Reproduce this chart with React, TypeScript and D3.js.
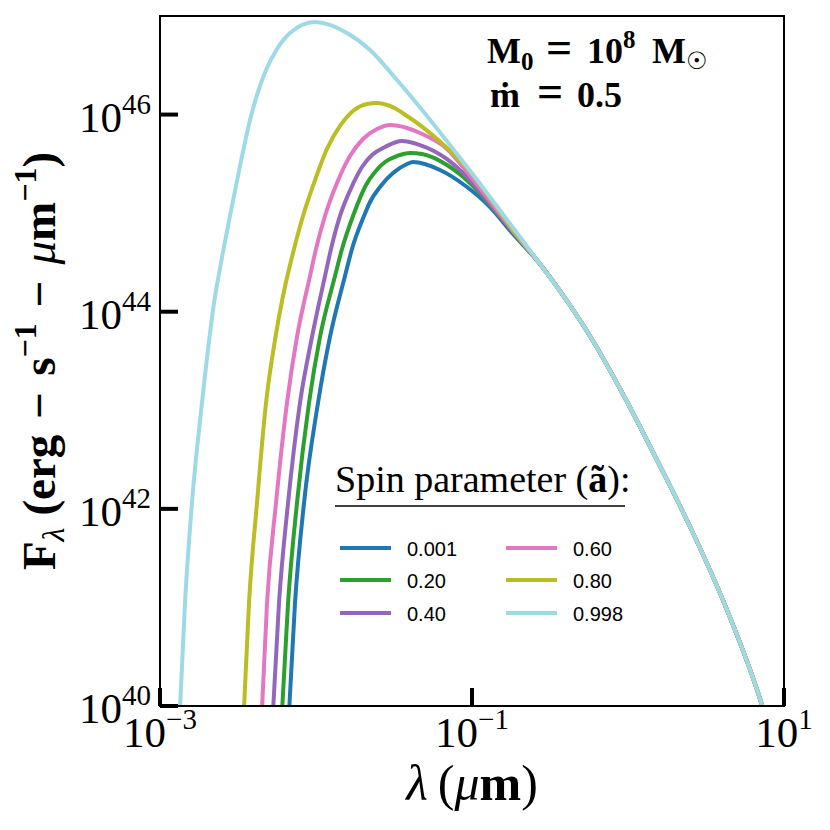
import React from 'react'
import * as d3 from 'd3'

// wavelength in micron, flux F_lambda in erg/s/micron
const spinLabels = ['0.001', '0.20', '0.40', '0.60', '0.80', '0.998']
const spinColors = ['#1f77b4', '#2ca02c', '#9467bd', '#e377c2', '#bcbd22', '#9edae5']

// long-wavelength tail, shared by every spin value
const tail: [number, number][] = [
    [0.2728, 3.05e44], [0.4064, 1.285e44], [0.5965, 5.05e43], [0.9568, 1.334e43],
    [1.604, 2.72e42], [2.611, 5.69e41], [4.311, 9.42e40], [7.228, 1.02e40], [7.894, 6.41e39],
]

const spin0001: [number, number][] = [
    [6.62e-3, 5.71e39], [7.333e-3, 1.109e41], [8.377e-3, 1.146e42], [1.03e-2, 1.186e43],
    [1.229e-2, 5.55e43], [1.534e-2, 2.3e44], [1.701e-2, 4.33e44], [2.031e-2, 9.36e44],
    [2.22e-2, 1.297e45], [2.572e-2, 1.841e45], [3.115e-2, 2.55e45], [3.832e-2, 3.15e45],
    [4.184e-2, 3.3e45], [6.236e-2, 2.74e45], [9.288e-2, 1.841e45], [0.1304, 1.154e45],
    [0.1832, 6.14e44],
]

const spin020: [number, number][] = [
    [5.966e-3, 5.71e39], [6.62e-3, 1.109e41], [7.553e-3, 1.146e42], [9.017e-3, 1.186e43],
    [1.061e-2, 5.55e43], [1.324e-2, 2.3e44], [1.468e-2, 4.33e44], [1.727e-2, 9.36e44],
    [2.092e-2, 1.93e45], [2.388e-2, 2.62e45], [2.769e-2, 3.3e45], [3.305e-2, 3.8e45],
    [4.005e-2, 4.08e45], [4.781e-2, 3.98e45], [6.912e-2, 3.08e45], [0.1015, 1.885e45],
    [0.1304, 1.209e45], [0.1832, 6.45e44],
]

const spin040: [number, number][] = [
    [5.223e-3, 5.71e39], [5.791e-3, 1.109e41], [6.62e-3, 1.146e42], [7.894e-3, 1.186e43],
    [9.428e-3, 5.55e43], [1.142e-2, 2.3e44], [1.248e-2, 4.33e44], [1.425e-2, 9.36e44],
    [1.727e-2, 1.977e45], [1.972e-2, 2.94e45], [2.286e-2, 3.89e45], [2.769e-2, 4.69e45],
    [3.557e-2, 5.4e45], [4.642e-2, 4.91e45], [6.912e-2, 3.54e45], [9.288e-2, 2.33e45],
    [0.1304, 1.238e45], [0.1832, 6.45e44],
]

const spin060: [number, number][] = [
    [4.44e-3, 5.71e39], [4.853e-3, 1.109e41], [5.542e-3, 1.146e42], [6.516e-3, 1.186e43],
    [7.553e-3, 5.55e43], [9.153e-3, 2.3e44], [1.0e-2, 4.33e44], [1.142e-2, 9.36e44],
    [1.363e-2, 2.02e45], [1.651e-2, 3.8e45], [2.001e-2, 5.65e45], [2.46e-2, 7.13e45],
    [2.981e-2, 7.83e45], [3.832e-2, 7.31e45], [4.642e-2, 6.5e45], [6.912e-2, 4.48e45],
    [9.288e-2, 2.62e45], [0.1304, 1.328e45], [0.1832, 6.59e44],
]

const spin080: [number, number][] = [
    [3.403e-3, 5.71e39], [3.719e-3, 1.109e41], [4.184e-3, 1.146e42], [4.781e-3, 1.186e43],
    [5.5e-3, 5.55e43], [6.144e-3, 1.443e44], [7.228e-3, 4.33e44], [8.254e-3, 9.36e44],
    [9.71e-3, 2.02e45], [1.176e-2, 4.48e45], [1.425e-2, 7.66e45], [1.727e-2, 1.087e46],
    [2.123e-2, 1.281e46], [2.46e-2, 1.312e46], [2.981e-2, 1.222e46], [3.832e-2, 9.68e45],
    [4.642e-2, 7.83e45], [6.912e-2, 4.58e45], [0.1015, 2.44e45], [0.1304, 1.425e45],
    [0.1832, 6.75e44],
]

const spin0998: [number, number][] = [
    [1.324e-3, 5.71e39], [1.446e-3, 1.109e41], [1.603e-3, 1.146e42], [1.858e-3, 1.186e43],
    [2.077e-3, 5.55e43], [2.22e-3, 1.225e44], [2.46e-3, 3.12e44], [2.81e-3, 9.36e44],
    [3.256e-3, 3.01e45], [3.832e-3, 9.68e45], [4.44e-3, 2.09e46], [5.623e-3, 4.62e46],
    [6.811e-3, 6.73e46], [9.854e-3, 8.69e46], [1.58e-2, 6.73e46], [2.22e-2, 4.52e46],
    [3.305e-2, 2.24e46], [4.507e-2, 1.251e46], [8.015e-2, 3.98e45], [0.1304, 1.46e45],
    [0.2123, 5.22e44],
]

const spinSeries = [spin0001, spin020, spin040, spin060, spin080, spin0998]

const xTicks = [1e-3, 1e-1, 1e1]
const xTickExp = ['\u22123', '\u22121', '1']
const yTicks = [1e40, 1e42, 1e44, 1e46]
const yTickExp = ['40', '42', '44', '46']

const W = 830
const H = 830
const margin = { top: 16, right: 46, bottom: 124, left: 160 }
const serif = "'Liberation Serif', 'DejaVu Serif', serif"
const sans = "'Liberation Sans', Arial, sans-serif"

export default function App() {
    const x = d3.scaleLog().domain([1e-3, 1e1]).range([margin.left, W - margin.right])
    const y = d3.scaleLog().domain([1e40, 1e47]).range([H - margin.bottom, margin.top])

    const line = d3
        .line<[number, number]>()
        .x((d) => x(d[0]))
        .y((d) => y(d[1]))
        .curve(d3.curveMonotoneX)

    const x0 = margin.left
    const x1 = W - margin.right
    const y0 = H - margin.bottom
    const y1 = margin.top
    const tickLen = 18

    // legend placement
    const legX = 335
    const legRows = [548, 580, 613]
    const legCols = [340, 506]

    return (
        <svg width={W} height={H} style={{ position: 'absolute', left: 0, top: 0, background: '#fff' }}>
            <defs>
                <clipPath id="plotArea">
                    <rect x={x0} y={y1} width={x1 - x0} height={y0 - y1} />
                </clipPath>
            </defs>

            <g clipPath="url(#plotArea)">
                {spinSeries.map((s, i) => (
                    <path
                        key={spinLabels[i]}
                        d={line(s.concat(tail))!}
                        fill="none"
                        stroke={spinColors[i]}
                        strokeWidth={4}
                        strokeLinejoin="round"
                    />
                ))}
            </g>

            {/* frame */}
            <rect x={x0} y={y1} width={x1 - x0} height={y0 - y1} fill="none" stroke="#000" strokeWidth={2} />

            {/* x ticks */}
            {xTicks.map((t, i) => (
                <g key={'xt' + i}>
                    <line x1={x(t)} x2={x(t)} y1={y0} y2={y0 - tickLen} stroke="#000" strokeWidth={4} />
                    <text x={x(t)} y={y0 + 41} textAnchor="middle" fontFamily={serif} fontSize={43}>
                        10<tspan fontSize={29} dy={-18}>{xTickExp[i]}</tspan>
                    </text>
                </g>
            ))}

            {/* y ticks */}
            {yTicks.map((t, i) => (
                <g key={'yt' + i}>
                    <line x1={x0} x2={x0 + tickLen} y1={y(t)} y2={y(t)} stroke="#000" strokeWidth={4} />
                    <text x={x0 - 9} y={y(t) + 17} textAnchor="end" fontFamily={serif} fontSize={43}>
                        10<tspan fontSize={29} dy={-18}>{yTickExp[i]}</tspan>
                    </text>
                </g>
            ))}

            {/* axis labels */}
            <text x={(x0 + x1) / 2} y={800} textAnchor="middle" fontFamily={serif} fontSize={50}>
                <tspan fontStyle="italic">λ</tspan>
                <tspan dx={10}>(</tspan>
                <tspan fontStyle="italic">μ</tspan>
                <tspan fontWeight="bold">m</tspan>)
            </text>
            <text
                transform={`translate(55, ${(y0 + y1) / 2}) rotate(-90)`}
                textAnchor="middle"
                fontFamily={serif}
                fontSize={47}
                fontWeight="bold"
            >
                F<tspan fontSize={32} dy={9} fontWeight="normal" fontStyle="italic">λ</tspan>
                <tspan dy={-9} dx={12}>(erg</tspan>
                <tspan dx={16}>−</tspan>
                <tspan dx={16}>s</tspan>
                <tspan fontSize={32} dy={-19}>−1</tspan>
                <tspan dy={19} dx={16}>−</tspan>
                <tspan dx={16} fontStyle="italic" fontWeight="normal">μ</tspan>m
                <tspan fontSize={32} dy={-19}>−1</tspan>
                <tspan dy={19}>)</tspan>
            </text>

            {/* annotation */}
            <text y={63} fontFamily={serif} fontSize={36} fontWeight="bold">
                <tspan x={487}>M</tspan>
                <tspan fontSize={25} dy={7}>0</tspan>
                <tspan x={546} dy={-7} fontSize={46}>=</tspan>
                <tspan x={587}>10</tspan>
                <tspan fontSize={25} dy={-15}>8</tspan>
                <tspan x={652} dy={15}>M</tspan>
                <tspan fontSize={24} fontWeight="normal" dy={6}>☉</tspan>
            </text>
            <text y={107} fontFamily={serif} fontSize={36} fontWeight="bold">
                <tspan x={490}>ṁ</tspan>
                <tspan x={537} fontSize={46}>=</tspan>
                <tspan x={577}>0.5</tspan>
            </text>

            {/* legend */}
            <text x={legX} y={492} fontFamily={serif} fontSize={38}>
                Spin parameter (<tspan fontWeight="bold">ã</tspan>):
            </text>
            <line x1={legX} x2={625} y1={506} y2={506} stroke="#000" strokeWidth={1.5} />
            {spinLabels.map((lab, i) => {
                const cx = legCols[Math.floor(i / 3)]
                const cy = legRows[i % 3]
                return (
                    <g key={'leg' + i}>
                        <line x1={cx} x2={cx + 51} y1={cy} y2={cy} stroke={spinColors[i]} strokeWidth={4} />
                        <text x={cx + 67} y={cy + 8} fontFamily={sans} fontSize={20}>
                            {lab}
                        </text>
                    </g>
                )
            })}
        </svg>
    )
}
